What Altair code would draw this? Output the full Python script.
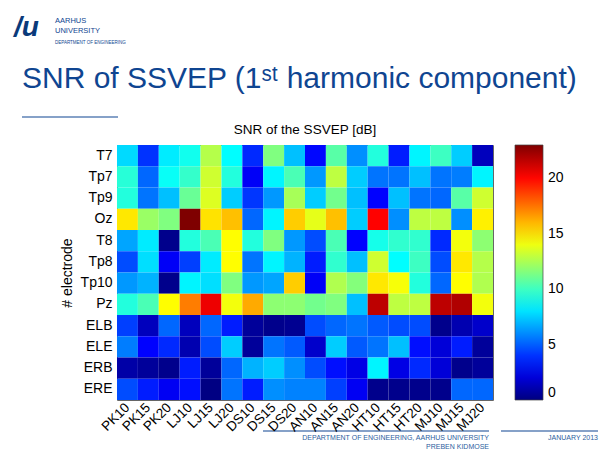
import altair as alt
import pandas as pd

subjects = ["PK10", "PK15", "PK20", "LJ10", "LJ15", "LJ20", "DS10", "DS15", "DS20",
            "AN10", "AN15", "AN20", "HT10", "HT15", "HT20", "MJ10", "MJ15", "MJ20"]
electrodes = ["T7", "Tp7", "Tp9", "Oz", "T8", "Tp8", "Tp10", "Pz", "ELB", "ELE", "ERB", "ERE"]

snr_T7 = [7.8, 4.0, 8.2, 9.0, 12.7, 8.6, 3.8, 11.5, 7.2, 3.0, 10.6, 6.1, 9.4, 3.5, 8.4, 10.0, 7.5, 1.4]
snr_Tp7 = [9.5, 5.2, 8.8, 9.8, 13.3, 9.4, 2.7, 8.4, 10.3, 6.3, 12.9, 7.5, 5.5, 5.5, 7.2, 5.5, 5.7, 8.4]
snr_Tp9 = [9.4, 5.5, 7.2, 11.0, 13.6, 7.5, 4.1, 6.3, 12.4, 7.5, 11.2, 7.2, 2.9, 7.2, 5.5, 5.2, 10.6, 13.3]
snr_Oz = [14.9, 12.1, 11.5, 23.0, 15.0, 15.8, 5.2, 8.4, 15.5, 13.8, 15.8, 7.5, 20.1, 6.1, 12.9, 12.9, 6.1, 14.7]
snr_T8 = [6.6, 8.2, 0.3, 9.4, 10.3, 14.4, 9.4, 11.5, 6.3, 4.6, 10.3, 2.9, 9.1, 9.7, 9.7, 3.8, 14.1, 11.8]
snr_Tp8 = [4.6, 7.9, 2.7, 4.3, 8.2, 14.4, 5.5, 8.4, 6.9, 3.5, 9.7, 7.2, 13.3, 8.6, 10.0, 4.6, 14.9, 12.7]
snr_Tp10 = [6.3, 6.9, 0.3, 8.4, 7.9, 11.5, 6.3, 6.6, 15.5, 2.7, 12.6, 11.6, 14.9, 14.2, 9.4, 5.2, 14.4, 12.6]
snr_Pz = [9.4, 10.3, 14.4, 17.3, 20.5, 14.1, 16.3, 11.8, 11.8, 11.2, 11.5, 7.2, 21.6, 12.9, 12.9, 21.6, 21.9, 14.1]
snr_ELB = [4.3, 1.4, 5.2, 1.4, 5.2, 3.5, 0.6, 0.3, 0.4, 4.6, 5.2, 5.5, 4.9, 4.6, 4.6, 0.3, 1.1, 1.7]
snr_ELE = [5.7, 2.9, 3.8, 1.1, 4.6, 7.5, 0.6, 5.5, 4.9, 1.7, 7.5, 4.9, 5.5, 7.2, 3.2, 2.0, 3.5, 0.6]
snr_ERB = [0.9, 0.6, 0.3, 3.5, 0.6, 5.2, 6.9, 7.5, 6.1, 4.6, 3.2, 2.3, 8.4, 2.3, 3.8, 2.0, 0.3, 0.6]
snr_ERE = [4.6, 3.5, 2.6, 3.2, 0.1, 5.5, 3.5, 6.1, 5.8, 5.8, 4.3, 2.6, 0.3, 0.3, 0.3, 0.3, 5.2, 5.2]

rows = [snr_T7, snr_Tp7, snr_Tp9, snr_Oz, snr_T8, snr_Tp8, snr_Tp10, snr_Pz,
        snr_ELB, snr_ELE, snr_ERB, snr_ERE]

colorbar_ticks = [0, 5, 10, 15, 20]

records = []
for el, vals in zip(electrodes, rows):
    for s, v in zip(subjects, vals):
        records.append({"subject": s, "electrode": el, "snr": v})
df = pd.DataFrame(records)

FONT = "Liberation Sans"
BLUE = "#0f4591"
FOOT = "#2c5e9e"

jet = alt.Scale(domain=[0, 2.875, 8.625, 14.375, 20.125, 23],
                range=["#00007f", "#0000ff", "#00ffff", "#ffff00", "#ff0000", "#7f0000"],
                interpolate="rgb")

heat = alt.Chart(df).mark_rect().encode(
    x=alt.X("subject:O", sort=subjects, scale=alt.Scale(paddingInner=0, paddingOuter=0),
            axis=alt.Axis(title=None, labelAngle=-45, labelAlign="right", labelBaseline="middle",
                          labelFontSize=13.5, labelFont=FONT, labelColor="black",
                          ticks=False, domain=False, labelPadding=5)),
    y=alt.Y("electrode:O", sort=electrodes, scale=alt.Scale(paddingInner=0, paddingOuter=0),
            axis=alt.Axis(title="# electrode", titleFont=FONT, titleFontSize=14,
                          titleFontWeight="normal", titleColor="black", titlePadding=6,
                          labelFontSize=14, labelFont=FONT, labelColor="black",
                          ticks=False, domain=False, labelPadding=5)),
    color=alt.Color("snr:Q", scale=jet,
                    legend=alt.Legend(title=None, orient="none", legendX=398, legendY=0,
                                      direction="vertical", gradientLength=255,
                                      gradientThickness=28, values=colorbar_ticks,
                                      labelFontSize=14, labelFont=FONT, labelColor="black",
                                      gradientStrokeColor="#444444", gradientStrokeWidth=0.7,
                                      labelOffset=5, labelOverlap=False)),
)


def txt(t, x, y, size, color, align="left", baseline="middle", font=FONT, weight="normal", style="normal"):
    return alt.Chart(pd.DataFrame({"t": [t]})).mark_text(
        align=align, baseline=baseline, fontSize=size, color=color, font=font,
        fontWeight=weight, fontStyle=style
    ).encode(text="t:N", x=alt.value(x), y=alt.value(y))


def hline(x1, x2, y, color, w):
    return alt.Chart(pd.DataFrame({"a": [0]})).mark_rule(color=color, strokeWidth=w).encode(
        x=alt.value(x1), x2=alt.value(x2), y=alt.value(y))


layers = [
    heat,
    txt("/u", -103, -109, 28, "#0a3a7a", baseline="alphabetic", weight="bold", style="italic"),
    txt("AARHUS", -62, -124, 7.5, BLUE),
    txt("UNIVERSITY", -62, -114, 7.5, BLUE),
    txt("DEPARTMENT OF ENGINEERING", -62, -102, 4.5, BLUE),
    txt("SNR of SSVEP (1\u02e2\u1d57 harmonic component)", -95, -57, 30, BLUE, baseline="alphabetic"),
    hline(-95, 1, -28, BLUE, 1.2),
    txt("SNR of the SSVEP [dB]", 188, -15, 13.5, "black", align="center"),
    hline(146, 372, 286, BLUE, 1.2),
    hline(384, 481, 286, BLUE, 1.2),
    txt("DEPARTMENT OF ENGINEERING, AARHUS UNIVERSITY", 372, 293, 7, FOOT, align="right"),
    txt("PREBEN KIDMOSE", 372, 301.5, 7, FOOT, align="right"),
    txt("JANUARY 2013", 481, 293, 7, FOOT, align="right"),
]

chart = alt.layer(*layers).properties(
    width=376, height=255,
    padding={"left": 109, "top": 137, "right": 110, "bottom": 51},
    autosize=alt.AutoSizeParams(type="none"),
    background="white",
).configure_view(stroke="#666666", strokeWidth=1)

chart.save("out.html", embed_options={"renderer": "svg", "actions": False})
